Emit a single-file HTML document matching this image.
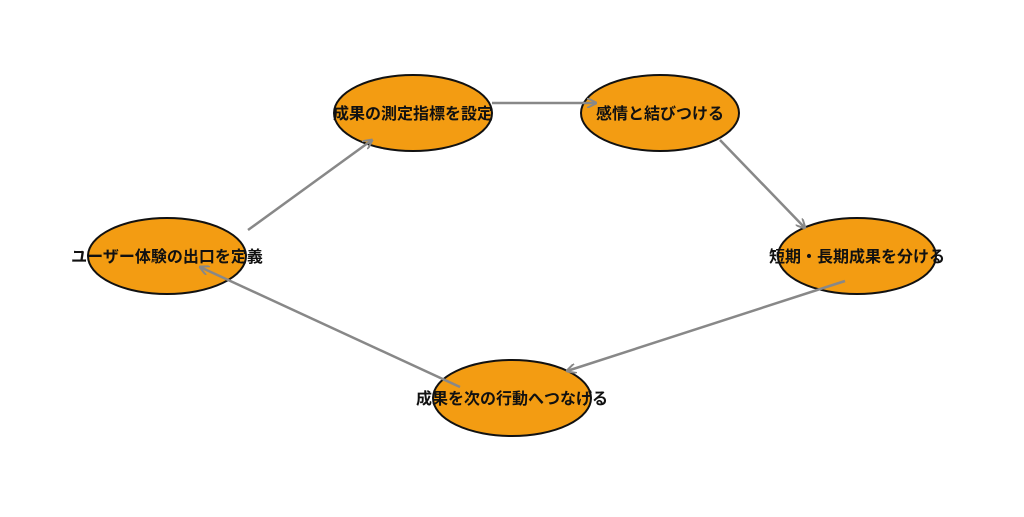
<!DOCTYPE html>
<html><head><meta charset="utf-8"><style>body{margin:0;background:#fff}</style></head><body>
<svg width="1024" height="512" xmlns="http://www.w3.org/2000/svg">
<defs><marker id="a" markerWidth="10" markerHeight="10" refX="9" refY="5" orient="auto" markerUnits="userSpaceOnUse"><path d="M0,0 L10,5 L0,10" fill="none" stroke="#888" stroke-width="2"/></marker></defs>
<g fill="#f39c12" stroke="#111" stroke-width="2">
<ellipse cx="167" cy="256" rx="79" ry="38"/>
<ellipse cx="413" cy="113" rx="79" ry="38"/>
<ellipse cx="660" cy="113" rx="79" ry="38"/>
<ellipse cx="857" cy="256" rx="79" ry="38"/>
<ellipse cx="512" cy="398" rx="79" ry="38"/>
</g>
<g font-family="'Liberation Sans','Noto Sans CJK JP',sans-serif" font-weight="bold" font-size="16" text-anchor="middle" fill="#111">
<text x="167" y="262">ユーザー体験の出口を定義</text>
<text x="413" y="119">成果の測定指標を設定</text>
<text x="660" y="119">感情と結びつける</text>
<text x="857" y="262">短期・長期成果を分ける</text>
<text x="512" y="404">成果を次の行動へつなげる</text>
</g>
<g stroke="#888" stroke-width="2.5" marker-end="url(#a)">
<line x1="248" y1="230" x2="372" y2="140"/>
<line x1="492" y1="103" x2="596" y2="103"/>
<line x1="720" y1="140" x2="805" y2="228"/>
<line x1="845" y1="281" x2="567" y2="371"/>
<line x1="460" y1="387" x2="200" y2="267"/>
</g>
</svg>
</body></html>
